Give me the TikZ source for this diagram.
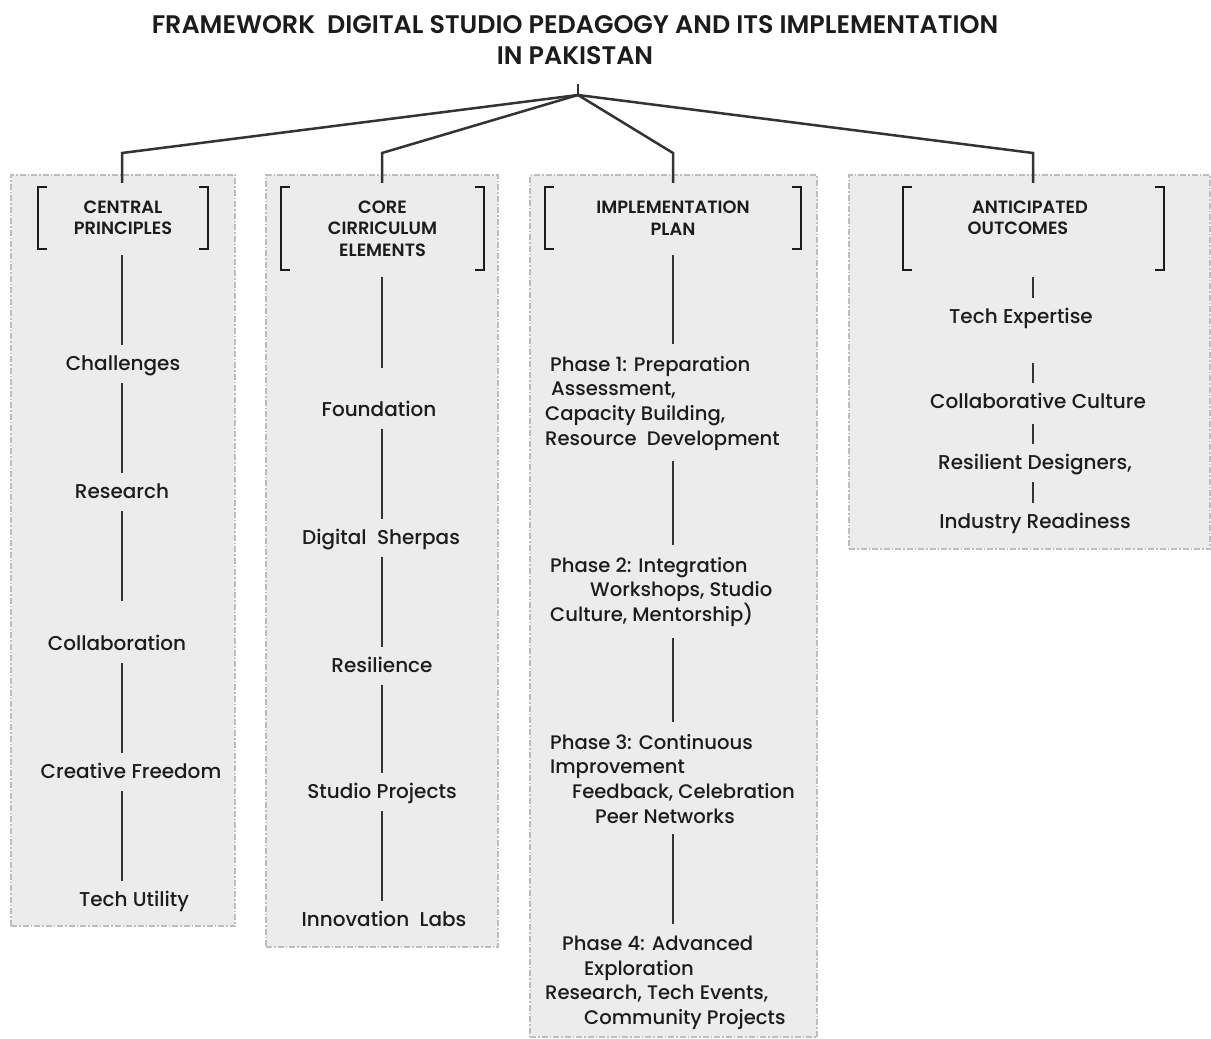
\documentclass[tikz,border=0pt]{standalone}
\usepackage{fontspec}
\setmainfont{Poppins Medium}[BoldFont={Poppins SemiBold}]
\usetikzlibrary{calc}
\definecolor{boxfill}{HTML}{ECECEC}
\definecolor{boxline}{HTML}{BDBDBD}
\definecolor{ink}{HTML}{1C1C1C}
\definecolor{wire}{HTML}{333333}
\begin{document}
\begin{tikzpicture}[x=1pt,y=-1pt,
  panel/.style={draw=boxline, fill=boxfill, line width=1.3pt,
    dash pattern=on 6pt off 2pt on 1.5pt off 2pt, inner sep=0pt},
  head/.style={inner sep=0pt, font=\fontsize{17.8}{21.5}\selectfont\bfseries,
    align=center, text=ink},
  bracket/.style={draw=ink, line width=2.2pt},
  item/.style={font=\fontsize{20}{24.6}\selectfont, text=ink, inner xsep=0pt,
    inner ysep=10pt, text height=15pt, text depth=3pt},
  phase/.style={font=\fontsize{19.6}{24.6}\selectfont, text=ink, inner xsep=0pt,
    inner ysep=11pt, align=left, anchor=north west},
  link/.style={draw=wire, line width=2pt},
  tree/.style={draw=wire, line width=2.5pt, line join=miter},
  ttlstyle/.style={font=\fontsize{25.4}{31}\selectfont\bfseries, align=center,
    text=ink, inner sep=0pt}
]
\useasboundingbox (0,0) rectangle (1211,1039);

% title
\node[ttlstyle] (ttl) at (575,40)
  {FRAMEWORK~~DIGITAL STUDIO PEDAGOGY AND ITS IMPLEMENTATION\\IN PAKISTAN};

% grey panels
\node[panel, minimum width=224pt, minimum height=751pt] (p1) at (123,550.5) {};
\node[panel, minimum width=232pt, minimum height=772pt] (p2) at (382,561) {};
\node[panel, minimum width=287pt, minimum height=862pt] (p3) at (673.5,606) {};
\node[panel, minimum width=361pt, minimum height=374pt] (p4) at (1029.5,362) {};

% bracketed headings
\node[head, minimum width=170pt, minimum height=62pt] (h1) at (123,218)
  {CENTRAL\\PRINCIPLES};
\node[head, minimum width=203pt, minimum height=83pt] (h2) at (382.5,228.5)
  {CORE\\CIRRICULUM\\ELEMENTS};
\node[head, minimum width=256pt, minimum height=62pt] (h3) at (673,218)
  {IMPLEMENTATION\\PLAN};
\node[head, minimum width=261pt, minimum height=83pt] (h4) at (1033.5,228.5) {};
\node[head] (h4t) at (1030,218) {ANTICIPATED\\OUTCOMES\hspace*{24pt}};

\foreach \h in {h1,h2,h3,h4}{
  \draw[bracket] ([xshift=9pt]\h.north west) -- (\h.north west)
    -- (\h.south west) -- ([xshift=9pt]\h.south west);
  \draw[bracket] ([xshift=-9pt]\h.north east) -- (\h.north east)
    -- (\h.south east) -- ([xshift=-9pt]\h.south east);
}

% tree from the title
\coordinate (stub) at (578,84);
\coordinate (root) at (578,95);
\coordinate (k1) at (122,153);
\coordinate (k2) at (382,153);
\coordinate (k3) at (673,153);
\coordinate (k4) at (1033,153);
\draw[tree] (stub) -- (root);
\foreach \k/\h in {k1/h1,k2/h2,k3/h3,k4/h4}{
  \draw[tree, shorten >=4pt] (root) -- (\k) -- (\k |- \h.north);
}

% central principles
\node[item] (c1) at (123,364) {Challenges};
\node[item] (c2) at (122,492) {Research};
\node[item] (c3) at (117,644) {Collaboration};
\node[item] (c4) at (131,772) {Creative Freedom};
\node[item] (c5) at (134,900) {Tech Utility};
\coordinate (x1) at (122,0);
\draw[link, shorten <=6pt] (x1 |- h1.south) -- (x1 |- c1.north);
\draw[link] (x1 |- c1.south) -- (x1 |- c2.north);
\draw[link, shorten >=24pt] (x1 |- c2.south) -- (x1 |- c3.north);
\draw[link] (x1 |- c3.south) -- (x1 |- c4.north);
\draw[link] (x1 |- c4.south) -- (x1 |- c5.north);

% core curriculum elements
\node[item] (f1) at (379,410) {Foundation};
\node[item] (f2) at (381,538) {Digital~~Sherpas};
\node[item] (f3) at (382,666) {Resilience};
\node[item] (f4) at (382,792) {Studio Projects};
\node[item] (f5) at (384,920) {Innovation~~Labs};
\coordinate (x2) at (382,0);
\draw[link, shorten <=7pt, shorten >=23pt] (x2 |- h2.south) -- (x2 |- f1.north);
\draw[link] (x2 |- f1.south) -- (x2 |- f2.north);
\draw[link] (x2 |- f2.south) -- (x2 |- f3.north);
\draw[link] (x2 |- f3.south) -- (x2 |- f4.north);
\draw[link] (x2 |- f4.south) -- (x2 |- f5.north);

% implementation plan
\node[phase] (ph1) at (545,345)
  {\hspace*{5pt}Phase 1: Preparation\\\hspace*{6pt}Assessment,\\Capacity Building,\\Resource~~Development};
\node[phase] (ph2) at (545,546)
  {\hspace*{5pt}Phase 2: Integration\\\hspace*{45pt}Workshops, Studio\\\hspace*{5pt}Culture, Mentorship)};
\node[phase] (ph3) at (545,723)
  {\hspace*{5pt}Phase 3: Continuous\\\hspace*{5pt}Improvement\\\hspace*{27pt}Feedback, Celebration\\\hspace*{50pt}Peer Networks};
\node[phase] (ph4) at (545,925)
  {\hspace*{17pt}Phase 4: Advanced\\\hspace*{39pt}Exploration\\Research, Tech Events,\\\hspace*{39pt}Community Projects};
\coordinate (x3) at (673,0);
\draw[link, shorten <=6pt, shorten >=1pt] (x3 |- h3.south) -- (x3 |- ph1.north);
\draw[link, shorten >=1pt] (x3 |- ph1.south) -- (x3 |- ph2.north);
\draw[link, shorten >=1pt] (x3 |- ph2.south) -- (x3 |- ph3.north);
\draw[link, shorten >=1pt] (x3 |- ph3.south) -- (x3 |- ph4.north);

% anticipated outcomes
\node[item] (o1) at (1021,317) {Tech Expertise};
\node[item] (o2) at (1038,402) {Collaborative Culture};
\node[item] (o3) at (1035,463) {Resilient Designers,};
\node[item] (o4) at (1035,522) {Industry Readiness};
\coordinate (x4) at (1033,0);
\draw[link, shorten <=7pt] (x4 |- h4.south) -- (x4 |- o1.north);
\draw[link, shorten <=27pt] (x4 |- o1.south) -- (x4 |- o2.north);
\draw[link, shorten <=3pt] (x4 |- o2.south) -- (x4 |- o3.north);
\draw[link] (x4 |- o3.south) -- (x4 |- o4.north);
\end{tikzpicture}
\end{document}
